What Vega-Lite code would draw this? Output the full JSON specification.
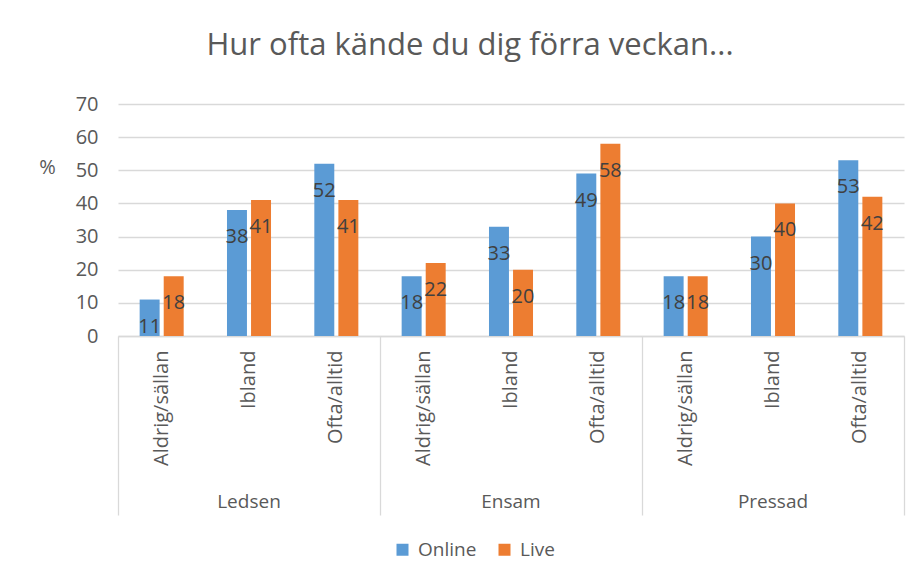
{
  "$schema": "https://vega.github.io/schema/vega-lite/v6.json",
  "width": 786,
  "height": 232,
  "autosize": {"type": "none"},
  "padding": {"left": 118, "top": 104, "right": 19, "bottom": 245},
  "background": "white",
  "title": {
    "text": "Hur ofta kände du dig förra veckan...",
    "fontSize": 31,
    "font": "Open Sans",
    "fontWeight": "normal",
    "color": "#595959",
    "anchor": "middle",
    "dx": -41,
    "offset": 32
  },
  "data": {
    "values": [
      {"grupp": "Ledsen", "svar": "Aldrig/sällan", "serie": "Online", "v": 11},
      {"grupp": "Ledsen", "svar": "Aldrig/sällan", "serie": "Live", "v": 18},
      {"grupp": "Ledsen", "svar": "Ibland", "serie": "Online", "v": 38},
      {"grupp": "Ledsen", "svar": "Ibland", "serie": "Live", "v": 41},
      {"grupp": "Ledsen", "svar": "Ofta/alltid", "serie": "Online", "v": 52},
      {"grupp": "Ledsen", "svar": "Ofta/alltid", "serie": "Live", "v": 41},
      {"grupp": "Ensam", "svar": "Aldrig/sällan", "serie": "Online", "v": 18},
      {"grupp": "Ensam", "svar": "Aldrig/sällan", "serie": "Live", "v": 22},
      {"grupp": "Ensam", "svar": "Ibland", "serie": "Online", "v": 33},
      {"grupp": "Ensam", "svar": "Ibland", "serie": "Live", "v": 20},
      {"grupp": "Ensam", "svar": "Ofta/alltid", "serie": "Online", "v": 49},
      {"grupp": "Ensam", "svar": "Ofta/alltid", "serie": "Live", "v": 58},
      {"grupp": "Pressad", "svar": "Aldrig/sällan", "serie": "Online", "v": 18},
      {"grupp": "Pressad", "svar": "Aldrig/sällan", "serie": "Live", "v": 18},
      {"grupp": "Pressad", "svar": "Ibland", "serie": "Online", "v": 30},
      {"grupp": "Pressad", "svar": "Ibland", "serie": "Live", "v": 40},
      {"grupp": "Pressad", "svar": "Ofta/alltid", "serie": "Online", "v": 53},
      {"grupp": "Pressad", "svar": "Ofta/alltid", "serie": "Live", "v": 42}
    ]
  },
  "transform": [{"calculate": "datum.grupp + '|' + datum.svar", "as": "kat"}],
  "resolve": {"axis": {"x": "independent"}},
  "layer": [
    {
      "mark": {"type": "bar"},
      "encoding": {
        "x": {
          "field": "kat",
          "type": "nominal",
          "scale": {
            "domain": ["Ledsen|Aldrig/sällan", "Ledsen|Ibland", "Ledsen|Ofta/alltid", "Ensam|Aldrig/sällan", "Ensam|Ibland", "Ensam|Ofta/alltid", "Pressad|Aldrig/sällan", "Pressad|Ibland", "Pressad|Ofta/alltid"],
            "paddingInner": 0,
            "paddingOuter": 0
          },
          "axis": {
            "orient": "bottom",
            "title": null,
            "labelExpr": "split(datum.label, '|')[1]",
            "labelAngle": -90,
            "labelAlign": "right",
            "labelBaseline": "middle",
            "labelPadding": 14,
            "labelFontSize": 20,
            "labelFont": "Open Sans",
            "labelColor": "#595959",
            "ticks": false,
            "domain": true,
            "domainColor": "#d9d9d9",
            "domainWidth": 1.3,
            "grid": false
          }
        },
        "xOffset": {
          "field": "serie",
          "type": "nominal",
          "sort": ["Online", "Live"],
          "scale": {"paddingInner": 0.17, "paddingOuter": 0.9}
        },
        "y": {
          "field": "v",
          "type": "quantitative",
          "scale": {"domain": [0, 70], "nice": false},
          "axis": {
            "values": [0, 10, 20, 30, 40, 50, 60, 70],
            "labelOverlap": false,
            "title": "%",
            "titleAngle": 0,
            "titleX": -71,
            "titleY": 63,
            "titleAlign": "center",
            "titleBaseline": "middle",
            "titleFontSize": 20,
            "titleFont": "Open Sans",
            "titleFontWeight": "normal",
            "titleColor": "#595959",
            "labelFontSize": 20,
            "labelFont": "Open Sans",
            "labelColor": "#595959",
            "labelPadding": 20,
            "ticks": false,
            "domain": false,
            "grid": true,
            "gridColor": "#d9d9d9",
            "gridWidth": 1.3
          }
        },
        "color": {
          "field": "serie",
          "type": "nominal",
          "scale": {"domain": ["Online", "Live"], "range": ["#5B9BD5", "#ED7D31"]},
          "legend": {
            "title": null,
            "orient": "none",
            "direction": "horizontal",
            "legendX": 275,
            "legendY": 436,
            "symbolType": "square",
            "symbolSize": 144,
            "symbolStrokeWidth": 0,
            "labelFontSize": 19,
            "labelFont": "Open Sans",
            "labelColor": "#595959",
            "labelOffset": 6,
            "columnPadding": 18
          }
        }
      }
    },
    {
      "mark": {"type": "text", "baseline": "middle", "dy": 27, "fontSize": 20, "font": "Open Sans", "color": "#404040"},
      "encoding": {
        "x": {
          "field": "kat",
          "type": "nominal",
          "axis": {
            "orient": "bottom",
            "title": null,
            "values": ["Ledsen|Aldrig/sällan"],
            "bandPosition": 0,
            "labels": false,
            "domain": false,
            "ticks": true,
            "tickSize": 179,
            "tickColor": "#d9d9d9",
            "tickWidth": 1.3,
            "grid": false
          }
        },
        "xOffset": {"field": "serie", "type": "nominal", "sort": ["Online", "Live"]},
        "y": {
          "field": "v",
          "type": "quantitative",
          "axis": {
            "values": [0, 10, 20, 30, 40, 50, 60, 70],
            "labelOverlap": false,
            "title": "%",
            "titleAngle": 0,
            "titleX": -71,
            "titleY": 63,
            "titleAlign": "center",
            "titleBaseline": "middle",
            "titleFontSize": 20,
            "titleFont": "Open Sans",
            "titleFontWeight": "normal",
            "titleColor": "#595959",
            "labelFontSize": 20,
            "labelFont": "Open Sans",
            "labelColor": "#595959",
            "labelPadding": 20,
            "ticks": false,
            "domain": false,
            "grid": true,
            "gridColor": "#d9d9d9",
            "gridWidth": 1.3
          }
        },
        "text": {"field": "v", "type": "quantitative"}
      }
    },
    {
      "mark": {"type": "tick", "opacity": 0},
      "encoding": {
        "x": {
          "field": "kat",
          "type": "nominal",
          "axis": {
            "orient": "bottom",
            "title": null,
            "values": ["Ledsen|Ofta/alltid", "Ensam|Ofta/alltid", "Pressad|Ofta/alltid"],
            "bandPosition": 1,
            "labels": false,
            "domain": false,
            "ticks": true,
            "tickSize": 179,
            "tickColor": "#d9d9d9",
            "tickWidth": 1.3,
            "grid": false
          }
        },
        "y": {
          "field": "v",
          "type": "quantitative",
          "axis": {
            "values": [0, 10, 20, 30, 40, 50, 60, 70],
            "labelOverlap": false,
            "title": "%",
            "titleAngle": 0,
            "titleX": -71,
            "titleY": 63,
            "titleAlign": "center",
            "titleBaseline": "middle",
            "titleFontSize": 20,
            "titleFont": "Open Sans",
            "titleFontWeight": "normal",
            "titleColor": "#595959",
            "labelFontSize": 20,
            "labelFont": "Open Sans",
            "labelColor": "#595959",
            "labelPadding": 20,
            "ticks": false,
            "domain": false,
            "grid": true,
            "gridColor": "#d9d9d9",
            "gridWidth": 1.3
          }
        }
      }
    },
    {
      "mark": {"type": "tick", "opacity": 0},
      "encoding": {
        "x": {
          "field": "kat",
          "type": "nominal",
          "axis": {
            "orient": "bottom",
            "title": null,
            "values": ["Ledsen|Ibland", "Ensam|Ibland", "Pressad|Ibland"],
            "labelExpr": "split(datum.label, '|')[0]",
            "labelAngle": 0,
            "labelAlign": "center",
            "labelBaseline": "middle",
            "labelPadding": 165,
            "labelFontSize": 19,
            "labelFont": "Open Sans",
            "labelColor": "#595959",
            "domain": false,
            "ticks": false,
            "grid": false
          }
        },
        "y": {
          "field": "v",
          "type": "quantitative",
          "axis": {
            "values": [0, 10, 20, 30, 40, 50, 60, 70],
            "labelOverlap": false,
            "title": "%",
            "titleAngle": 0,
            "titleX": -71,
            "titleY": 63,
            "titleAlign": "center",
            "titleBaseline": "middle",
            "titleFontSize": 20,
            "titleFont": "Open Sans",
            "titleFontWeight": "normal",
            "titleColor": "#595959",
            "labelFontSize": 20,
            "labelFont": "Open Sans",
            "labelColor": "#595959",
            "labelPadding": 20,
            "ticks": false,
            "domain": false,
            "grid": true,
            "gridColor": "#d9d9d9",
            "gridWidth": 1.3
          }
        }
      }
    }
  ],
  "config": {"view": {"stroke": null}}
}
